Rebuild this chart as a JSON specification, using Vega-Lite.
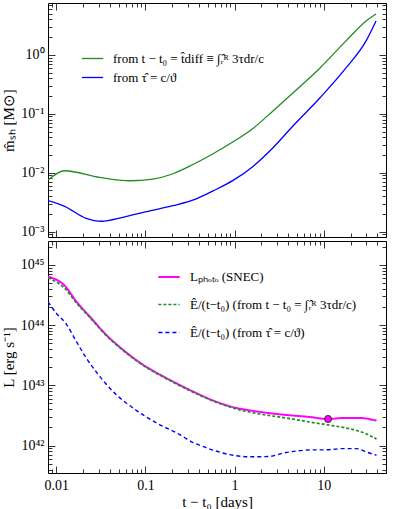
{
  "$schema": "https://vega.github.io/schema/vega-lite/v6.json",
  "padding": {"left": 0, "top": 2, "right": 2, "bottom": 0},
  "spacing": 0,
  "resolve": {
    "scale": {"color": "independent", "strokeDash": "independent", "strokeWidth": "independent"},
    "legend": {"color": "independent", "strokeDash": "independent", "strokeWidth": "independent"}
  },
  "config": {
    "view": {"stroke": "black", "strokeWidth": 1},
    "font": "Liberation Serif",
    "axis": {
      "domain": false, "grid": false, "minExtent": 0,
      "tickColor": "black", "tickWidth": 0.8,
      "labelFont": "Liberation Serif", "labelFontSize": 14, "labelColor": "black",
      "titleFont": "Liberation Serif", "titleFontSize": 15, "titleFontWeight": "normal", "titleColor": "black",
      "labelFlush": false
    },
    "legend": {
      "labelFont": "Liberation Serif", "labelFontSize": 13, "labelColor": "black",
      "labelLimit": 0, "symbolType": "stroke", "symbolSize": 450, "labelOffset": 9, "padding": 0
    }
  },
  "datasets": {
    "top": [
      {"t": 0.00807, "m": 0.0075, "s": "diff"},
      {"t": 0.0124, "m": 0.0108, "s": "diff"},
      {"t": 0.0307, "m": 0.0083, "s": "diff"},
      {"t": 0.0667, "m": 0.0073, "s": "diff"},
      {"t": 0.1216, "m": 0.0078, "s": "diff"},
      {"t": 0.204, "m": 0.0096, "s": "diff"},
      {"t": 0.342, "m": 0.0138, "s": "diff"},
      {"t": 0.574, "m": 0.021, "s": "diff"},
      {"t": 0.962, "m": 0.0335, "s": "diff"},
      {"t": 1.61, "m": 0.0565, "s": "diff"},
      {"t": 2.7, "m": 0.112, "s": "diff"},
      {"t": 4.54, "m": 0.227, "s": "diff"},
      {"t": 9.1, "m": 0.6, "s": "diff"},
      {"t": 17.8, "m": 1.73, "s": "diff"},
      {"t": 29.9, "m": 3.77, "s": "diff"},
      {"t": 38.7, "m": 4.95, "s": "diff"},
      {"t": 0.00807, "m": 0.00335, "s": "tau"},
      {"t": 0.0124, "m": 0.00268, "s": "tau"},
      {"t": 0.0217, "m": 0.00168, "s": "tau"},
      {"t": 0.032, "m": 0.0015, "s": "tau"},
      {"t": 0.0561, "m": 0.00175, "s": "tau"},
      {"t": 0.102, "m": 0.00218, "s": "tau"},
      {"t": 0.204, "m": 0.00276, "s": "tau"},
      {"t": 0.372, "m": 0.0036, "s": "tau"},
      {"t": 0.574, "m": 0.0049, "s": "tau"},
      {"t": 0.962, "m": 0.0074, "s": "tau"},
      {"t": 1.61, "m": 0.0128, "s": "tau"},
      {"t": 2.7, "m": 0.0265, "s": "tau"},
      {"t": 4.54, "m": 0.0626, "s": "tau"},
      {"t": 9.1, "m": 0.187, "s": "tau"},
      {"t": 17.8, "m": 0.6, "s": "tau"},
      {"t": 29.9, "m": 1.73, "s": "tau"},
      {"t": 38.7, "m": 3.77, "s": "tau"}
    ],
    "bot": [
      {"t": 0.00807, "L": 6.4e44, "s": "photo"},
      {"t": 0.0124, "L": 4.54e44, "s": "photo"},
      {"t": 0.0168, "L": 2.46e44, "s": "photo"},
      {"t": 0.0237, "L": 1.39e44, "s": "photo"},
      {"t": 0.0364, "L": 6.9e43, "s": "photo"},
      {"t": 0.0561, "L": 3.89e43, "s": "photo"},
      {"t": 0.094, "L": 2.2e43, "s": "photo"},
      {"t": 0.172, "L": 1.32e43, "s": "photo"},
      {"t": 0.33, "L": 8.1e42, "s": "photo"},
      {"t": 0.574, "L": 5.6e42, "s": "photo"},
      {"t": 0.962, "L": 4.35e42, "s": "photo"},
      {"t": 1.4, "L": 3.9e42, "s": "photo"},
      {"t": 2.6, "L": 3.42e42, "s": "photo"},
      {"t": 3.81, "L": 3.22e42, "s": "photo"},
      {"t": 6.98, "L": 2.98e42, "s": "photo"},
      {"t": 11.2, "L": 2.76e42, "s": "photo"},
      {"t": 16.5, "L": 2.87e42, "s": "photo"},
      {"t": 25.4, "L": 2.87e42, "s": "photo"},
      {"t": 39.1, "L": 2.59e42, "s": "photo"},
      {"t": 0.00807, "L": 6.1e44, "s": "diff"},
      {"t": 0.0124, "L": 4.1e44, "s": "diff"},
      {"t": 0.0168, "L": 2.35e44, "s": "diff"},
      {"t": 0.0237, "L": 1.35e44, "s": "diff"},
      {"t": 0.0364, "L": 6.7e43, "s": "diff"},
      {"t": 0.0561, "L": 3.8e43, "s": "diff"},
      {"t": 0.094, "L": 2.15e43, "s": "diff"},
      {"t": 0.172, "L": 1.29e43, "s": "diff"},
      {"t": 0.33, "L": 7.9e42, "s": "diff"},
      {"t": 0.574, "L": 5.5e42, "s": "diff"},
      {"t": 0.962, "L": 4.2e42, "s": "diff"},
      {"t": 1.92, "L": 3.34e42, "s": "diff"},
      {"t": 3.81, "L": 2.87e42, "s": "diff"},
      {"t": 6.98, "L": 2.46e42, "s": "diff"},
      {"t": 10.7, "L": 2.22e42, "s": "diff"},
      {"t": 16.5, "L": 2.0e42, "s": "diff"},
      {"t": 25.4, "L": 1.72e42, "s": "diff"},
      {"t": 39.1, "L": 1.29e42, "s": "diff"},
      {"t": 0.00807, "L": 2.46e44, "s": "tau"},
      {"t": 0.01, "L": 1.58e44, "s": "tau"},
      {"t": 0.0129, "L": 1.05e44, "s": "tau"},
      {"t": 0.0168, "L": 5.35e43, "s": "tau"},
      {"t": 0.0217, "L": 2.84e43, "s": "tau"},
      {"t": 0.0307, "L": 1.41e43, "s": "tau"},
      {"t": 0.0472, "L": 6.98e42, "s": "tau"},
      {"t": 0.0726, "L": 4.2e42, "s": "tau"},
      {"t": 0.133, "L": 2.37e42, "s": "tau"},
      {"t": 0.243, "L": 1.52e42, "s": "tau"},
      {"t": 0.342, "L": 1.12e42, "s": "tau"},
      {"t": 0.44, "L": 9.7e41, "s": "tau"},
      {"t": 0.574, "L": 8.4e41, "s": "tau"},
      {"t": 0.962, "L": 6.9e41, "s": "tau"},
      {"t": 1.61, "L": 6.5e41, "s": "tau"},
      {"t": 2.49, "L": 6.6e41, "s": "tau"},
      {"t": 3.52, "L": 7.5e41, "s": "tau"},
      {"t": 4.58, "L": 8.0e41, "s": "tau"},
      {"t": 6.98, "L": 8.45e41, "s": "tau"},
      {"t": 10.7, "L": 8.5e41, "s": "tau"},
      {"t": 16.5, "L": 8.9e41, "s": "tau"},
      {"t": 23.3, "L": 8.9e41, "s": "tau"},
      {"t": 30.3, "L": 7.8e41, "s": "tau"},
      {"t": 39.1, "L": 6.9e41, "s": "tau"}
    ],
    "pt": [{"t": 11.2, "L": 2.76e42}]
  },
  "vconcat": [
    {
      "width": 338,
      "height": 234,
      "layer": [
        {
          "data": {"name": "top"},
          "mark": {"type": "line", "strokeWidth": 1.3, "clip": true, "interpolate": "monotone"},
          "encoding": {
            "x": {"field": "t", "type": "quantitative",
              "scale": {"type": "log", "domain": [0.00807, 50], "nice": false},
              "axis": {"orient": "bottom", "values": [0.01, 0.1, 1, 10], "tickSize": -7, "labels": false, "title": null}},
            "y": {"field": "m", "type": "quantitative",
              "scale": {"type": "log", "domain": [0.00081, 7.6], "nice": false},
              "axis": {"orient": "left", "values": [0.001, 0.01, 0.1, 1], "tickSize": -7, "labelPadding": 11,
                "labelExpr": "datum.value > 0.5 ? '10⁰' : datum.value > 0.05 ? '10⁻¹' : datum.value > 0.005 ? '10⁻²' : '10⁻³'",
                "title": "m̂ₛₕ [M⊙]"}},
            "color": {"field": "s", "type": "nominal",
              "scale": {"domain": ["diff", "tau"], "range": ["#228b22", "#0000ff"]},
              "legend": {"orient": "none", "legendX": 33, "legendY": 44, "title": null, "rowPadding": -4, "symbolStrokeWidth": 1.3,
                "labelExpr": "datum.value == 'diff' ? 'from t − t₀ = t̂diff ≡ ∫ᵣ̂ᴿ 3τdr/c' : 'from τ̂ = c/ϑ'"}}
          }
        },
        {
          "data": {"name": "top"},
          "mark": {"type": "point", "opacity": 0},
          "encoding": {
            "x": {"field": "t", "type": "quantitative",
              "axis": {"orient": "bottom", "values": [0.009, 0.02, 0.03, 0.04, 0.05, 0.06, 0.07, 0.08, 0.09, 0.2, 0.3, 0.4, 0.5, 0.6, 0.7, 0.8, 0.9, 2, 3, 4, 5, 6, 7, 8, 9, 20, 30, 40, 50], "tickSize": -4, "labels": false, "title": null}},
            "y": {"field": "m", "type": "quantitative",
              "axis": {"orient": "left", "values": [0.0009, 0.002, 0.003, 0.004, 0.005, 0.006, 0.007, 0.008, 0.009, 0.02, 0.03, 0.04, 0.05, 0.06, 0.07, 0.08, 0.09, 0.2, 0.3, 0.4, 0.5, 0.6, 0.7, 0.8, 0.9, 2, 3, 4, 5, 6, 7], "tickSize": -4, "labels": false, "title": null}}
          }
        },
        {
          "data": {"name": "top"},
          "mark": {"type": "point", "opacity": 0},
          "encoding": {
            "x": {"field": "t", "type": "quantitative",
              "axis": {"orient": "top", "values": [0.01, 0.1, 1, 10], "tickSize": -7, "labels": false, "title": null}},
            "y": {"field": "m", "type": "quantitative",
              "axis": {"orient": "right", "values": [0.001, 0.01, 0.1, 1], "tickSize": -7, "labels": false, "title": null}}
          }
        },
        {
          "data": {"name": "top"},
          "mark": {"type": "point", "opacity": 0},
          "encoding": {
            "x": {"field": "t", "type": "quantitative",
              "axis": {"orient": "top", "values": [0.009, 0.02, 0.03, 0.04, 0.05, 0.06, 0.07, 0.08, 0.09, 0.2, 0.3, 0.4, 0.5, 0.6, 0.7, 0.8, 0.9, 2, 3, 4, 5, 6, 7, 8, 9, 20, 30, 40, 50], "tickSize": -4, "labels": false, "title": null}},
            "y": {"field": "m", "type": "quantitative",
              "axis": {"orient": "right", "values": [0.0009, 0.002, 0.003, 0.004, 0.005, 0.006, 0.007, 0.008, 0.009, 0.02, 0.03, 0.04, 0.05, 0.06, 0.07, 0.08, 0.09, 0.2, 0.3, 0.4, 0.5, 0.6, 0.7, 0.8, 0.9, 2, 3, 4, 5, 6, 7], "tickSize": -4, "labels": false, "title": null}}
          }
        }
      ],
      "resolve": {"axis": {"x": "independent", "y": "independent"}}
    },
    {
      "width": 338,
      "height": 232,
      "layer": [
        {
          "data": {"name": "bot"},
          "mark": {"type": "line", "clip": true, "interpolate": "monotone"},
          "encoding": {
            "x": {"field": "t", "type": "quantitative",
              "scale": {"type": "log", "domain": [0.00807, 50], "nice": false},
              "axis": {"orient": "bottom", "values": [0.01, 0.1, 1, 10], "tickSize": -7, "labelPadding": 12, "format": "~g", "title": "t − t₀ [days]", "titlePadding": 2}},
            "y": {"field": "L", "type": "quantitative",
              "scale": {"type": "log", "domain": [3.5e41, 2.5e45], "nice": false},
              "axis": {"orient": "left", "values": [1e42, 1e43, 1e44, 1e45], "tickSize": -7, "labelPadding": 11,
                "labelExpr": "datum.value > 5e44 ? '10⁴⁵' : datum.value > 5e43 ? '10⁴⁴' : datum.value > 5e42 ? '10⁴³' : '10⁴²'",
                "title": "L [erg s⁻¹]"}},
            "color": {"field": "s", "type": "nominal",
              "scale": {"domain": ["photo", "diff", "tau"], "range": ["#ff00ff", "#228b22", "#0000ff"]},
              "legend": {"orient": "none", "legendX": 109, "legendY": 24, "title": null, "rowPadding": 9,
                "labelExpr": "datum.value == 'photo' ? 'Lₚₕₒₜₒ (SNEC)' : datum.value == 'diff' ? 'Ê/(t−t₀) (from t − t₀ = ∫ᵣ̂ᴿ 3τdr/c)' : 'Ê/(t−t₀) (from τ̂ = c/ϑ)'"}},
            "strokeDash": {"field": "s", "type": "nominal",
              "scale": {"domain": ["photo", "diff", "tau"], "range": [[1, 0], [3, 2], [4, 3]]},
              "legend": {"orient": "none", "legendX": 109, "legendY": 24, "title": null, "rowPadding": 9,
                "labelExpr": "datum.value == 'photo' ? 'Lₚₕₒₜₒ (SNEC)' : datum.value == 'diff' ? 'Ê/(t−t₀) (from t − t₀ = ∫ᵣ̂ᴿ 3τdr/c)' : 'Ê/(t−t₀) (from τ̂ = c/ϑ)'"}},
            "strokeWidth": {"field": "s", "type": "nominal",
              "scale": {"domain": ["photo", "diff", "tau"], "range": [2, 1.4, 1.4]},
              "legend": {"orient": "none", "legendX": 109, "legendY": 24, "title": null, "rowPadding": 9,
                "labelExpr": "datum.value == 'photo' ? 'Lₚₕₒₜₒ (SNEC)' : datum.value == 'diff' ? 'Ê/(t−t₀) (from t − t₀ = ∫ᵣ̂ᴿ 3τdr/c)' : 'Ê/(t−t₀) (from τ̂ = c/ϑ)'"}}
          }
        },
        {
          "data": {"name": "pt"},
          "mark": {"type": "point", "shape": "circle", "filled": true, "size": 50, "color": "#ff00ff", "stroke": "#333333", "strokeWidth": 1, "opacity": 1},
          "encoding": {
            "x": {"field": "t", "type": "quantitative", "axis": null},
            "y": {"field": "L", "type": "quantitative", "axis": null}
          }
        },
        {
          "data": {"name": "bot"},
          "mark": {"type": "point", "opacity": 0},
          "encoding": {
            "x": {"field": "t", "type": "quantitative",
              "axis": {"orient": "bottom", "values": [0.009, 0.02, 0.03, 0.04, 0.05, 0.06, 0.07, 0.08, 0.09, 0.2, 0.3, 0.4, 0.5, 0.6, 0.7, 0.8, 0.9, 2, 3, 4, 5, 6, 7, 8, 9, 20, 30, 40, 50], "tickSize": -4, "labels": false, "title": null}},
            "y": {"field": "L", "type": "quantitative",
              "axis": {"orient": "left", "values": [4e41, 5e41, 6e41, 7e41, 8e41, 9e41, 2e42, 3e42, 4e42, 5e42, 6e42, 7e42, 8e42, 9e42, 2e43, 3e43, 4e43, 5e43, 6e43, 7e43, 8e43, 9e43, 2e44, 3e44, 4e44, 5e44, 6e44, 7e44, 8e44, 9e44, 2e45], "tickSize": -4, "labels": false, "title": null}}
          }
        },
        {
          "data": {"name": "bot"},
          "mark": {"type": "point", "opacity": 0},
          "encoding": {
            "x": {"field": "t", "type": "quantitative",
              "axis": {"orient": "top", "values": [0.01, 0.1, 1, 10], "tickSize": -7, "labels": false, "title": null}},
            "y": {"field": "L", "type": "quantitative",
              "axis": {"orient": "right", "values": [1e42, 1e43, 1e44, 1e45], "tickSize": -7, "labels": false, "title": null}}
          }
        },
        {
          "data": {"name": "bot"},
          "mark": {"type": "point", "opacity": 0},
          "encoding": {
            "x": {"field": "t", "type": "quantitative",
              "axis": {"orient": "top", "values": [0.009, 0.02, 0.03, 0.04, 0.05, 0.06, 0.07, 0.08, 0.09, 0.2, 0.3, 0.4, 0.5, 0.6, 0.7, 0.8, 0.9, 2, 3, 4, 5, 6, 7, 8, 9, 20, 30, 40, 50], "tickSize": -4, "labels": false, "title": null}},
            "y": {"field": "L", "type": "quantitative",
              "axis": {"orient": "right", "values": [4e41, 5e41, 6e41, 7e41, 8e41, 9e41, 2e42, 3e42, 4e42, 5e42, 6e42, 7e42, 8e42, 9e42, 2e43, 3e43, 4e43, 5e43, 6e43, 7e43, 8e43, 9e43, 2e44, 3e44, 4e44, 5e44, 6e44, 7e44, 8e44, 9e44, 2e45], "tickSize": -4, "labels": false, "title": null}}
          }
        }
      ],
      "resolve": {"axis": {"x": "independent", "y": "independent"}}
    }
  ]
}
